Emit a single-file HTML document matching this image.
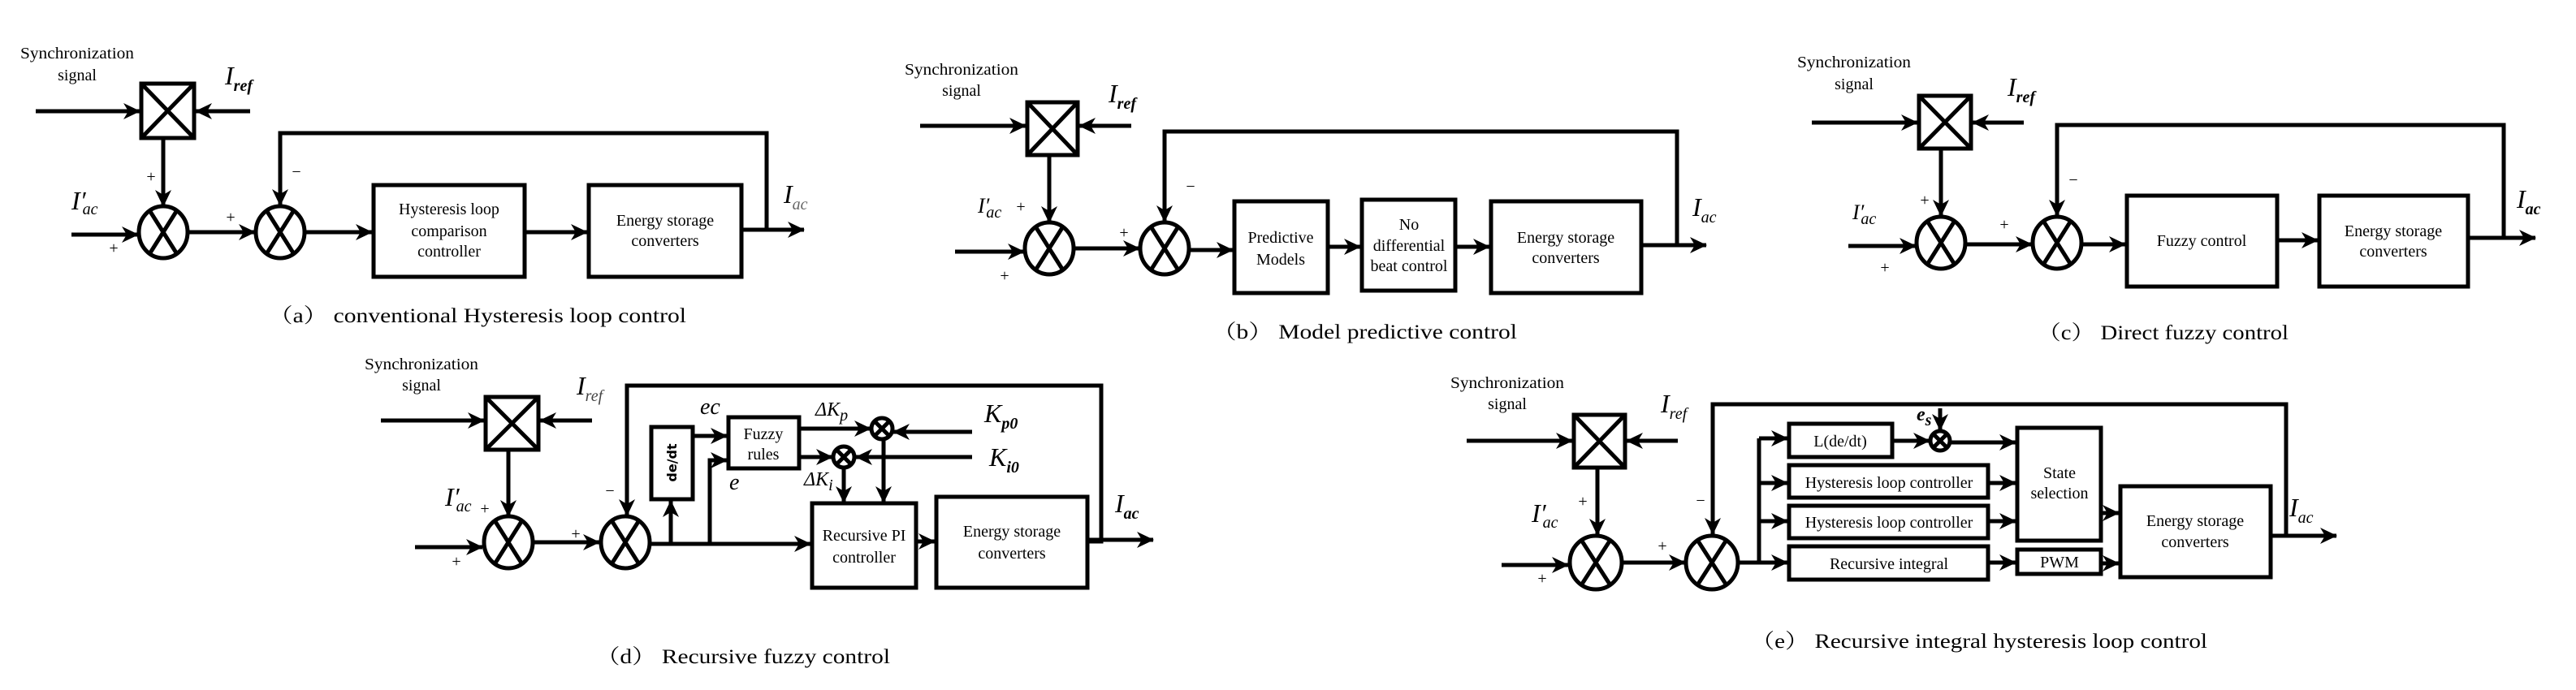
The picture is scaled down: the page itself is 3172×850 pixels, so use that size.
<!DOCTYPE html>
<html><head><meta charset="utf-8"><style>
html,body{margin:0;padding:0;background:#fff;}
svg{display:block}
text{font-family:"Liberation Serif","Noto Serif CJK SC",serif;fill:#000}
.t{font-size:20px}
.c{font-size:25px}
.m{font-style:italic;font-size:32px}
.s{font-size:20px}
.p{font-size:20px}
</style></head><body>
<svg width="3172" height="850" viewBox="0 0 3172 850" xmlns="http://www.w3.org/2000/svg">
<defs>
<marker id="a" markerUnits="userSpaceOnUse" markerWidth="22" markerHeight="22" refX="20" refY="11" orient="auto"><path d="M0,1 L21,11 L0,21 L6,11z" fill="#000"/></marker>
</defs>
<g stroke="#000" stroke-width="5" fill="none">
<!-- (a) -->
<rect x="174" y="103" width="65" height="67"/><path d="M174,103L239,170M239,103L174,170"/>
<path d="M44,137H172" marker-end="url(#a)"/><path d="M308,137H241" marker-end="url(#a)"/>
<path d="M201,170V254" marker-end="url(#a)"/>
<ellipse cx="201" cy="286" rx="30" ry="32"/><path d="M184,259L218,313M218,259L184,313"/>
<path d="M88,289H170" marker-end="url(#a)"/>
<path d="M231,286H314" marker-end="url(#a)"/>
<ellipse cx="345" cy="286" rx="30" ry="32"/><path d="M328,259L362,313M362,259L328,313"/>
<path d="M913,283H944V164H345V253" marker-end="url(#a)"/>
<path d="M375,286H458" marker-end="url(#a)"/>
<rect x="460" y="228" width="186" height="113"/>
<path d="M646,286H723" marker-end="url(#a)"/>
<rect x="725" y="228" width="188" height="113"/>
<path d="M913,283H990" marker-end="url(#a)"/>
<!-- (b) -->
<rect x="1265" y="126" width="62" height="65"/><path d="M1265,126L1327,191M1327,126L1265,191"/>
<path d="M1133,155H1263" marker-end="url(#a)"/><path d="M1393,155H1329" marker-end="url(#a)"/>
<path d="M1292,191V274" marker-end="url(#a)"/>
<ellipse cx="1292" cy="306" rx="30" ry="32"/><path d="M1275,279L1309,333M1309,279L1275,333"/>
<path d="M1176,310H1261" marker-end="url(#a)"/>
<path d="M1322,306H1403" marker-end="url(#a)"/>
<ellipse cx="1434" cy="306" rx="30" ry="32"/><path d="M1417,279L1451,333M1451,279L1417,333"/>
<path d="M2021,302H2065V162H1434V273" marker-end="url(#a)"/>
<path d="M1464,308H1518" marker-end="url(#a)"/>
<rect x="1520" y="248" width="115" height="113"/>
<path d="M1635,304H1675" marker-end="url(#a)"/>
<rect x="1677" y="246" width="115" height="112"/>
<path d="M1792,304H1834" marker-end="url(#a)"/>
<rect x="1836" y="248" width="185" height="113"/>
<path d="M2021,302H2101" marker-end="url(#a)"/>
<!-- (c) -->
<rect x="2363" y="118" width="64" height="65"/><path d="M2363,118L2427,183M2427,118L2363,183"/>
<path d="M2231,151H2361" marker-end="url(#a)"/><path d="M2492,151H2429" marker-end="url(#a)"/>
<path d="M2390,183V266" marker-end="url(#a)"/>
<ellipse cx="2390" cy="299" rx="30" ry="32"/><path d="M2373,272L2407,326M2407,272L2373,326"/>
<path d="M2276,303H2359" marker-end="url(#a)"/>
<path d="M2420,301H2502" marker-end="url(#a)"/>
<ellipse cx="2533" cy="299" rx="30" ry="32"/><path d="M2516,272L2550,326M2550,272L2516,326"/>
<path d="M3039,293H3083V154H2533V266" marker-end="url(#a)"/>
<path d="M2563,301H2617" marker-end="url(#a)"/>
<rect x="2619" y="241" width="185" height="112"/>
<path d="M2804,296H2854" marker-end="url(#a)"/>
<rect x="2856" y="241" width="183" height="112"/>
<path d="M3039,293H3122" marker-end="url(#a)"/>
<!-- (d) -->
<rect x="598" y="489" width="65" height="65"/><path d="M598,489L663,554M663,489L598,554"/>
<path d="M469,518H596" marker-end="url(#a)"/><path d="M729,518H665" marker-end="url(#a)"/>
<path d="M626,554V636" marker-end="url(#a)"/>
<ellipse cx="626" cy="668" rx="30" ry="32"/><path d="M609,641L643,695M643,641L609,695"/>
<path d="M511,674H594" marker-end="url(#a)"/>
<path d="M656,668H738" marker-end="url(#a)"/>
<ellipse cx="770" cy="668" rx="30" ry="32"/><path d="M753,641L787,695M787,641L753,695"/>
<path d="M1339,667H1356V475H772V635" marker-end="url(#a)"/>
<path d="M800,670H998" marker-end="url(#a)"/>
<rect x="802" y="526" width="51" height="89"/>
<path d="M826,670V617" marker-end="url(#a)"/>
<path d="M874,670V567H895" marker-end="url(#a)"/>
<path d="M853,537H895" marker-end="url(#a)"/>
<rect x="897" y="514" width="87" height="63"/>
<path d="M984,528H1072" marker-end="url(#a)"/>
<ellipse cx="1086" cy="528" rx="13" ry="13"/><path d="M1077,519L1095,537M1095,519L1077,537"/>
<path d="M1197,532H1100" marker-end="url(#a)"/>
<path d="M984,563H1025" marker-end="url(#a)"/>
<ellipse cx="1039" cy="563" rx="13" ry="13"/><path d="M1030,554L1048,572M1048,554L1030,572"/>
<path d="M1197,563H1054" marker-end="url(#a)"/>
<path d="M1039,577V619" marker-end="url(#a)"/>
<path d="M1088,541V619" marker-end="url(#a)"/>
<rect x="1000" y="620" width="128" height="104"/>
<path d="M1128,667H1151" marker-end="url(#a)"/>
<rect x="1153" y="612" width="186" height="112"/>
<path d="M1339,665H1420" marker-end="url(#a)"/>
<!-- (e) -->
<rect x="1938" y="511" width="63" height="65"/><path d="M1938,511L2001,576M2001,511L1938,576"/>
<path d="M1806,543H1936" marker-end="url(#a)"/><path d="M2066,543H2003" marker-end="url(#a)"/>
<path d="M1967,576V659" marker-end="url(#a)"/>
<ellipse cx="1965" cy="693" rx="32" ry="33"/><path d="M1947,665L1983,721M1983,665L1947,721"/>
<path d="M1849,696H1931" marker-end="url(#a)"/>
<path d="M1997,693H2075" marker-end="url(#a)"/>
<ellipse cx="2108" cy="693" rx="32" ry="33"/><path d="M2090,665L2126,721M2126,665L2090,721"/>
<path d="M2796,660H2815V498H2109V658" marker-end="url(#a)"/>
<path d="M2140,693H2166V540"/>
<path d="M2166,540H2201" marker-end="url(#a)"/>
<path d="M2166,595H2201" marker-end="url(#a)"/>
<path d="M2166,642H2201" marker-end="url(#a)"/>
<path d="M2166,693H2201" marker-end="url(#a)"/>
<rect x="2203" y="522" width="127" height="41"/>
<rect x="2203" y="573" width="245" height="40"/>
<rect x="2203" y="623" width="245" height="40"/>
<rect x="2203" y="673" width="245" height="41"/>
<path d="M2330,543H2376" marker-end="url(#a)"/>
<ellipse cx="2389" cy="543" rx="12" ry="12"/><path d="M2381,535L2397,551M2397,535L2381,551"/>
<path d="M2389,503V530" marker-end="url(#a)"/>
<path d="M2401,545H2482" marker-end="url(#a)"/>
<path d="M2448,595H2482" marker-end="url(#a)"/>
<path d="M2448,642H2482" marker-end="url(#a)"/>
<rect x="2484" y="527" width="103" height="139"/>
<path d="M2587,632H2609" marker-end="url(#a)"/>
<path d="M2448,693H2482" marker-end="url(#a)"/>
<rect x="2484" y="677" width="103" height="30"/>
<path d="M2587,694H2609" marker-end="url(#a)"/>
<rect x="2611" y="599" width="185" height="112"/>
<path d="M2796,660H2877" marker-end="url(#a)"/>
</g>

<g class="t" text-anchor="middle">
<!-- (a) -->
<text x="95" y="72" textLength="140" lengthAdjust="spacingAndGlyphs">Synchronization</text><text x="95" y="99">signal</text>
<text x="553" y="264">Hysteresis loop</text><text x="553" y="291">comparison</text><text x="553" y="316">controller</text>
<text x="819" y="278">Energy storage</text><text x="819" y="303">converters</text>
<text x="186" y="224">+</text><text x="140" y="312">+</text><text x="284" y="274">+</text><text x="365" y="218">−</text>
<!-- (b) -->
<text x="1184" y="92" textLength="140" lengthAdjust="spacingAndGlyphs">Synchronization</text><text x="1184" y="118">signal</text>
<text x="1577" y="299">Predictive</text><text x="1577" y="326">Models</text>
<text x="1735" y="283">No</text><text x="1735" y="309">differential</text><text x="1735" y="334">beat control</text>
<text x="1928" y="299">Energy storage</text><text x="1928" y="324">converters</text>
<text x="1257" y="261">+</text><text x="1237" y="346">+</text><text x="1384" y="293">+</text><text x="1466" y="236">−</text>
<!-- (c) -->
<text x="2283" y="83" textLength="140" lengthAdjust="spacingAndGlyphs">Synchronization</text><text x="2283" y="110">signal</text>
<text x="2711" y="303">Fuzzy control</text>
<text x="2947" y="291">Energy storage</text><text x="2947" y="316">converters</text>
<text x="2370" y="253">+</text><text x="2321" y="336">+</text><text x="2468" y="283">+</text><text x="2553" y="228">−</text>
<!-- (d) -->
<text x="519" y="455" textLength="140" lengthAdjust="spacingAndGlyphs">Synchronization</text><text x="519" y="481">signal</text>
<text x="940" y="541">Fuzzy</text><text x="940" y="566">rules</text>
<text x="1064" y="666">Recursive PI</text><text x="1064" y="693">controller</text>
<text x="1246" y="661">Energy storage</text><text x="1246" y="688">converters</text>
<text x="597" y="633">+</text><text x="562" y="698">+</text><text x="709" y="664">+</text><text x="751" y="611">−</text>
<text x="827" y="570" transform="rotate(-90 827 570)" dy="6" style="font-family:'DejaVu Sans',sans-serif;font-weight:bold;font-size:16px">de/dt</text>
<!-- (e) -->
<text x="1856" y="478" textLength="140" lengthAdjust="spacingAndGlyphs">Synchronization</text><text x="1856" y="504">signal</text>
<text x="2266" y="550">L(de/dt)</text>
<text x="2326" y="601">Hysteresis loop controller</text>
<text x="2326" y="650">Hysteresis loop controller</text>
<text x="2326" y="701">Recursive integral</text>
<text x="2536" y="589">State</text><text x="2536" y="614">selection</text>
<text x="2536" y="699">PWM</text>
<text x="2703" y="648">Energy storage</text><text x="2703" y="674">converters</text>
<text x="1949" y="624">+</text><text x="1899" y="719">+</text><text x="2047" y="679">+</text><text x="2094" y="623">−</text>
</g>

<!-- math labels -->
<g class="m">
<text x="277" y="104">I<tspan class="s" font-weight="bold" dy="8">ref</tspan></text>
<text x="88" y="258">I′<tspan class="s" dy="6" dx="-4">ac</tspan></text>
<text x="965" y="250">I<tspan class="s" dy="8" fill="#666">ac</tspan></text>

<text x="1365" y="126">I<tspan class="s" font-weight="bold" dy="8">ref</tspan></text>
<text x="1204" y="262" font-size="26">I′<tspan class="s" dy="6" dx="-4">ac</tspan></text>
<text x="2084" y="266">I<tspan class="s" dy="8">ac</tspan></text>

<text x="2472" y="118">I<tspan class="s" font-weight="bold" dy="8">ref</tspan></text>
<text x="2281" y="270" font-size="26">I′<tspan class="s" dy="6" dx="-4">ac</tspan></text>
<text x="3099" y="256">I<tspan class="s" font-weight="bold" dy="8">ac</tspan></text>

<text x="710" y="486">I<tspan class="s" dy="8" fill="#444">ref</tspan></text>
<text x="548" y="623">I′<tspan class="s" dy="7" dx="-4">ac</tspan></text>
<text x="1373" y="631">I<tspan class="s" font-weight="bold" dy="8">ac</tspan></text>
<text x="862" y="510" font-size="28">ec</text>
<text x="898" y="603" font-size="28">e</text>
<text x="1004" y="512" font-size="24">ΔK<tspan class="s" dy="6">p</tspan></text>
<text x="990" y="598" font-size="24">ΔK<tspan class="s" dy="6">i</tspan></text>
<text x="1212" y="520">K<tspan class="s" font-weight="bold" dy="8">p0</tspan></text>
<text x="1218" y="574">K<tspan class="s" font-weight="bold" dy="8">i0</tspan></text>

<text x="2045" y="508">I<tspan class="s" dy="8">ref</tspan></text>
<text x="1886" y="643">I′<tspan class="s" dy="7" dx="-4">ac</tspan></text>
<text x="2819" y="636">I<tspan class="s" dy="8">ac</tspan></text>
<text x="2360" y="518" font-size="24" font-weight="bold">e<tspan class="s" dy="6">s</tspan></text>
</g>

<!-- captions -->
<g class="c">
<text x="331" y="397" textLength="514" lengthAdjust="spacingAndGlyphs">（a） conventional Hysteresis loop control</text>
<text x="1493" y="417" textLength="375" lengthAdjust="spacingAndGlyphs">（b） Model predictive control</text>
<text x="2509" y="418" textLength="309" lengthAdjust="spacingAndGlyphs">（c） Direct fuzzy control</text>
<text x="734" y="817" textLength="362" lengthAdjust="spacingAndGlyphs">（d） Recursive fuzzy control</text>
<text x="2156" y="798" textLength="562" lengthAdjust="spacingAndGlyphs">（e） Recursive integral hysteresis loop control</text>
</g>
</svg>
</body></html>
